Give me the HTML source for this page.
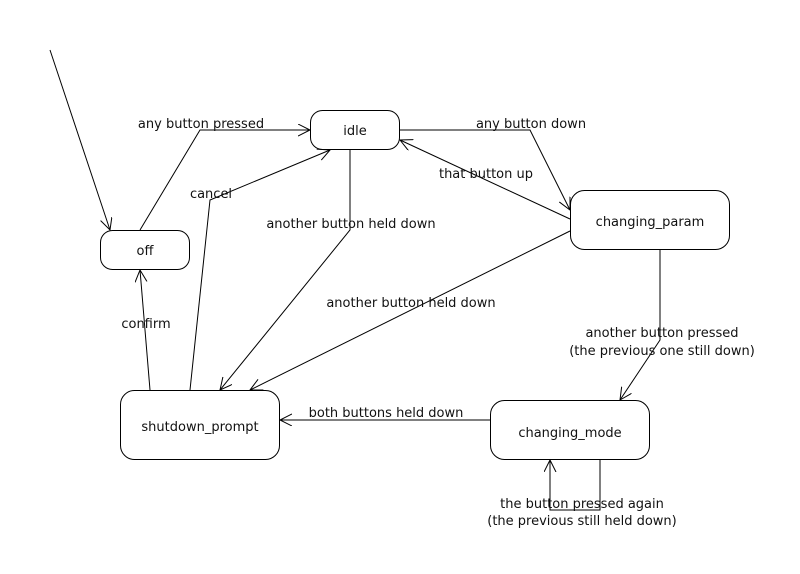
<!DOCTYPE html>
<html><head><style>body{margin:0;background:#fff}svg{display:block}text{font-family:"DejaVu Sans","Liberation Sans",sans-serif;font-size:13px;fill:#111}</style></head>
<body>
<svg width="800" height="574" viewBox="0 0 800 574" xmlns="http://www.w3.org/2000/svg">
<defs><marker id="a" markerWidth="14" markerHeight="14" refX="12" refY="6" orient="auto" markerUnits="userSpaceOnUse"><path d="M0,0 L12,6 L0,12" fill="none" stroke="#000" stroke-width="1"/></marker></defs>
<g fill="none" stroke="#000" stroke-width="1">
<rect x="310.5" y="110.5" width="89" height="39" rx="12"/>
<rect x="100.5" y="230.5" width="89" height="39" rx="12"/>
<rect x="570.5" y="190.5" width="159" height="59" rx="14"/>
<rect x="490.5" y="400.5" width="159" height="59" rx="14"/>
<rect x="120.5" y="390.5" width="159" height="69" rx="14"/>
<polyline points="50,50 110,230" marker-end="url(#a)"/>
<polyline points="140,230 200,130 310,130" marker-end="url(#a)"/>
<polyline points="190,390 210,200 330,150" marker-end="url(#a)"/>
<polyline points="350,150 350,230 220,390" marker-end="url(#a)"/>
<polyline points="400,130 530,130 570,210" marker-end="url(#a)"/>
<polyline points="570,219 400,140" marker-end="url(#a)"/>
<polyline points="570,231 250,390" marker-end="url(#a)"/>
<polyline points="660,250 660,340 620,400" marker-end="url(#a)"/>
<polyline points="490,420 280,420" marker-end="url(#a)"/>
<polyline points="150,390 140,270" marker-end="url(#a)"/>
<polyline points="600,460 600,510 550,510 550,460" marker-end="url(#a)"/>
</g>
<g text-anchor="middle">
<text x="355" y="135">idle</text>
<text x="145" y="255">off</text>
<text x="650" y="226">changing_param</text>
<text x="570" y="437">changing_mode</text>
<text x="200" y="431">shutdown_prompt</text>
<text x="201" y="128">any button pressed</text>
<text x="211" y="198">cancel</text>
<text x="351" y="228">another button held down</text>
<text x="531" y="128">any button down</text>
<text x="486" y="178">that button up</text>
<text x="411" y="307">another button held down</text>
<text x="662" y="337">another button pressed</text>
<text x="662" y="355">(the previous one still down)</text>
<text x="386" y="417">both buttons held down</text>
<text x="146" y="328">confirm</text>
<text x="582" y="508">the button pressed again</text>
<text x="582" y="525">(the previous still held down)</text>
</g>
</svg>
</body></html>
